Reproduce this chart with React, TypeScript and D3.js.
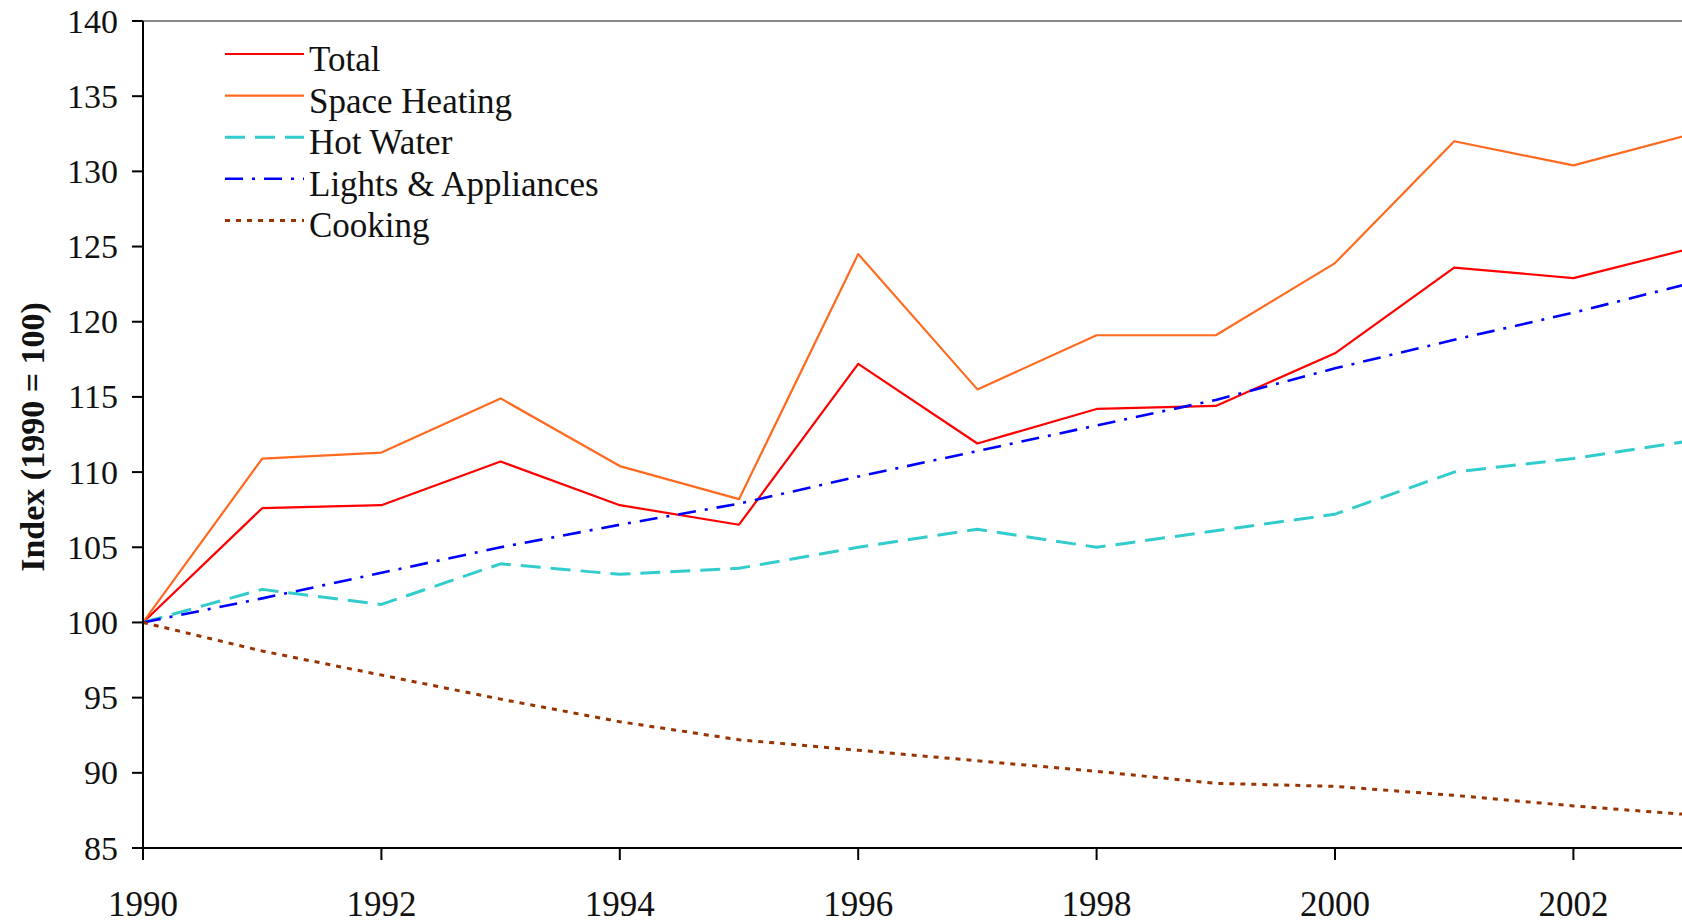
import * as d3 from "d3";

const years = [1990, 1991, 1992, 1993, 1994, 1995, 1996, 1997, 1998, 1999, 2000, 2001, 2002, 2003];

const total = [100, 107.6, 107.8, 110.7, 107.8, 106.5, 117.2, 111.9, 114.2, 114.4, 117.9, 123.6, 122.9, 124.9];
const spaceHeating = [100, 110.9, 111.3, 114.9, 110.4, 108.2, 124.5, 115.5, 119.1, 119.1, 123.9, 132.0, 130.4, 132.5];
const hotWater = [100, 102.2, 101.2, 103.9, 103.2, 103.6, 105.0, 106.2, 105.0, 106.1, 107.2, 110.0, 110.9, 112.1];
const lightsAppliances = [100, 101.6, 103.3, 105.0, 106.5, 107.9, 109.7, 111.4, 113.1, 114.8, 116.9, 118.8, 120.6, 122.6];
const cooking = [100, 98.1, 96.5, 94.9, 93.4, 92.2, 91.5, 90.8, 90.1, 89.3, 89.1, 88.5, 87.8, 87.2];

const yTicks = [85, 90, 95, 100, 105, 110, 115, 120, 125, 130, 135, 140];
const xTicks = [1990, 1992, 1994, 1996, 1998, 2000, 2002];

const series = [
  { name: "Total", values: total, color: "#ff0000", width: 2.2, dash: "none" },
  { name: "Space Heating", values: spaceHeating, color: "#ff6a1f", width: 2.2, dash: "none" },
  { name: "Hot Water", values: hotWater, color: "#33cccc", width: 3, dash: "20 10" },
  { name: "Lights & Appliances", values: lightsAppliances, color: "#0000ff", width: 2.6, dash: "18 9 3 9" },
  { name: "Cooking", values: cooking, color: "#993300", width: 3, dash: "5 6" },
];

const W = 1682;
const H = 924;
const left = 143;
const top = 21;
const bottom = 848;

export default function App() {
  const x = d3.scaleLinear().domain([1990, 2004]).range([left, left + 14 * 119.2]);
  const y = d3.scaleLinear().domain([85, 140]).range([bottom, top]);
  const line = d3
    .line<number>()
    .x((_, i) => x(years[i]))
    .y((d) => y(d));

  const font = "'Liberation Serif', 'Times New Roman', serif";

  return (
    <svg
      width={W}
      height={H}
      style={{ position: "absolute", left: 0, top: 0, background: "#fff" }}
      fontFamily={font}
    >
      {/* frame top */}
      <line x1={left} x2={x(2004)} y1={top} y2={top} stroke="#888" strokeWidth={2} />

      {series.map((s) => (
        <path
          key={s.name}
          d={line(s.values) || ""}
          fill="none"
          stroke={s.color}
          strokeWidth={s.width}
          strokeDasharray={s.dash}
          strokeLinejoin="round"
        />
      ))}

      {/* y axis */}
      <line x1={left} x2={left} y1={top} y2={bottom} stroke="#000" strokeWidth={2} />
      {yTicks.map((t) => (
        <g key={t}>
          <line x1={left - 11} x2={left} y1={y(t)} y2={y(t)} stroke="#000" strokeWidth={2} />
          <text x={118} y={y(t)} dy="0.34em" textAnchor="end" fontSize={34} fill="#111">
            {t}
          </text>
        </g>
      ))}

      {/* x axis */}
      <line x1={left} x2={x(2004)} y1={bottom} y2={bottom} stroke="#000" strokeWidth={2} />
      {xTicks.map((t) => (
        <g key={t}>
          <line x1={x(t)} x2={x(t)} y1={bottom} y2={bottom + 12} stroke="#000" strokeWidth={2} />
          <text x={x(t)} y={916} textAnchor="middle" fontSize={35} fill="#111">
            {t}
          </text>
        </g>
      ))}

      <text
        transform={`translate(44,437) rotate(-90)`}
        textAnchor="middle"
        fontSize={34}
        fontWeight="bold"
        fill="#111"
      >
        Index (1990 = 100)
      </text>

      {/* legend */}
      {series.map((s, i) => {
        const ly = 54 + i * 41.6;
        return (
          <g key={s.name}>
            <line
              x1={225}
              x2={304}
              y1={ly}
              y2={ly}
              stroke={s.color}
              strokeWidth={s.width}
              strokeDasharray={s.dash}
            />
            <text x={309} y={ly + 17} fontSize={35} fill="#111">
              {s.name}
            </text>
          </g>
        );
      })}
    </svg>
  );
}
